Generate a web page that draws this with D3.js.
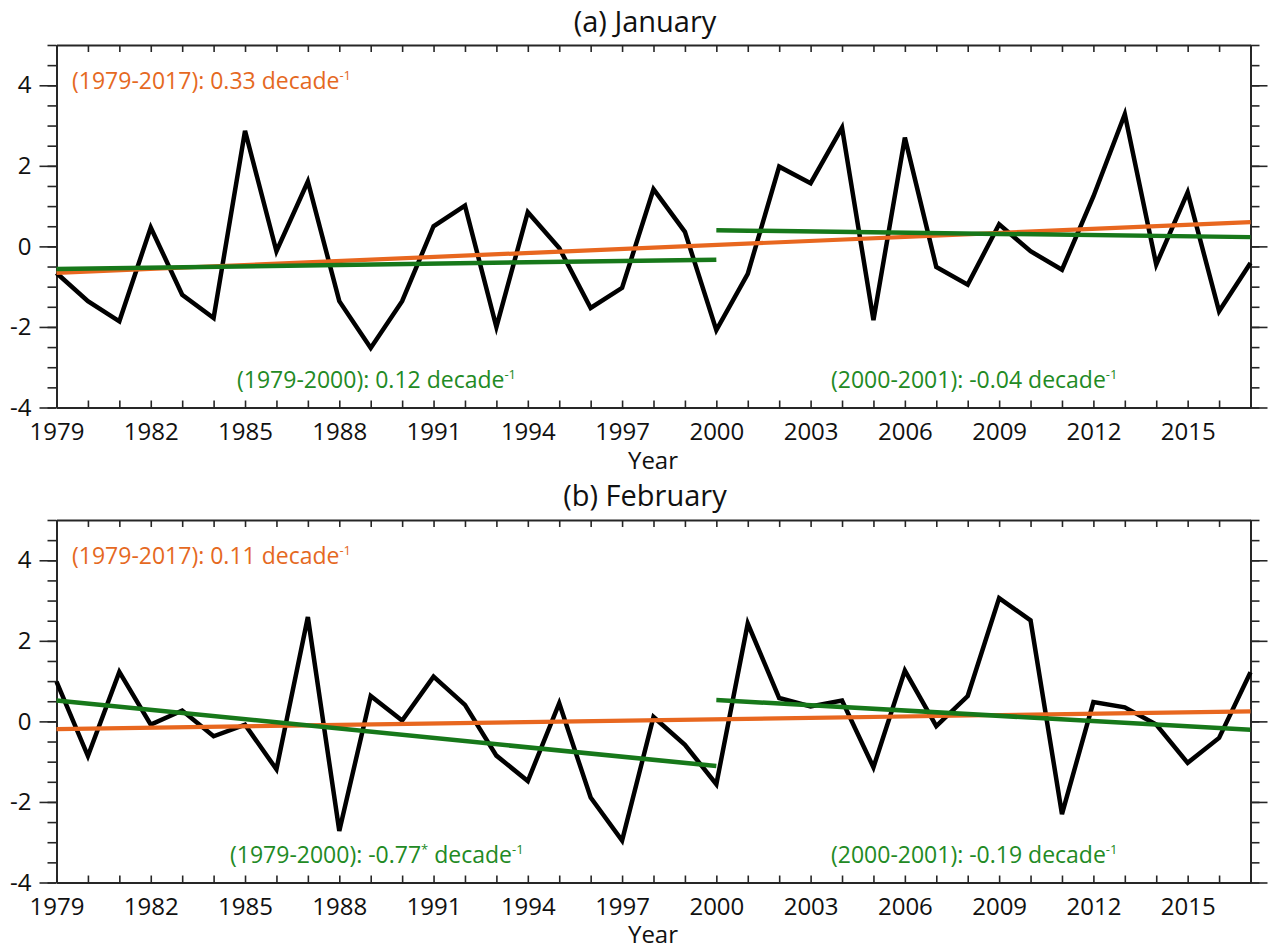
<!DOCTYPE html>
<html>
<head>
<meta charset="utf-8">
<script src="https://cdn.jsdelivr.net/npm/d3@7"></script>
<style>
  html, body { margin: 0; padding: 0; background: #fff; }
  svg { display: block; }
  text { font-family: "Open Sans", "Noto Sans", sans-serif; }
</style>
</head>
<body>
<svg id="chart" width="1268" height="949"></svg>
<script>
// ---------------- data ----------------
const years = d3.range(1979, 2018);
const janValues = [-0.66, -1.36, -1.86, 0.47, -1.20, -1.78, 2.87, -0.12, 1.61, -1.36,
  -2.52, -1.36, 0.50, 1.01, -2.00, 0.85, -0.04, -1.53, -1.03, 1.42,
  0.36, -2.08, -0.68, 1.98, 1.57, 2.95, -1.83, 2.70, -0.51, -0.95,
  0.55, -0.12, -0.58, 1.24, 3.28, -0.45, 1.34, -1.61, -0.41];
const febValues = [0.99, -0.86, 1.23, -0.08, 0.27, -0.37, -0.08, -1.19, 2.59, -2.72,
  0.63, 0.02, 1.11, 0.41, -0.85, -1.48, 0.45, -1.89, -2.96, 0.11,
  -0.58, -1.56, 2.43, 0.58, 0.37, 0.52, -1.14, 1.26, -0.12, 0.63,
  3.06, 2.51, -2.30, 0.48, 0.35, -0.08, -1.03, -0.41, 1.22];
// trend line endpoints [startYear, startValue, endYear, endValue]
const janTrendAll = [1979, -0.66, 2017, 0.60];
const janTrendEarly = [1979, -0.56, 2000, -0.33];
const janTrendLate = [2000, 0.40, 2017, 0.23];
const febTrendAll = [1979, -0.19, 2017, 0.25];
const febTrendEarly = [1979, 0.52, 2000, -1.11];
const febTrendLate = [2000, 0.53, 2017, -0.21];
const panelTitles = ["(a) January", "(b) February"];
const trendAllLabels = ["0.33", "0.11"];
const trendEarlyLabels = ["0.12", "-0.77"];
const trendEarlyStars = ["", "*"];
const trendLateLabels = ["-0.04", "-0.19"];
const yMajorTicks = [-4, -2, 0, 2, 4];
const yMinorTicks = d3.range(-4, 5.01, 0.5);
const xLabelYears = d3.range(1979, 2018, 3);

// ---------------- layout ----------------
const svg = d3.select("#chart");
const orange = "#e8671f";
const green = "#17781a";
const axisColor = "#262626";
const x = d3.scaleLinear().domain([1979, 2017]).range([56.5, 1250.5]);

const panels = [
  { title: panelTitles[0], values: janValues, all: janTrendAll, early: janTrendEarly, late: janTrendLate,
    top: 45, bottom: 407.5, titleY: 32, yearY: 469, idx: 0 },
  { title: panelTitles[1], values: febValues, all: febTrendAll, early: febTrendEarly, late: febTrendLate,
    top: 520, bottom: 882.5, titleY: 506, yearY: 943, idx: 1 }
];

function styleAxis(g) {
  g.selectAll("path.domain").attr("stroke", axisColor).attr("stroke-width", 1.8);
  g.selectAll(".tick line").attr("stroke", axisColor).attr("stroke-width", 1.6);
  g.selectAll(".tick text").attr("fill", "#111").style("font-family", '"Open Sans", sans-serif');
}

panels.forEach(p => {
  const y = d3.scaleLinear().domain([-4, 5]).range([p.bottom, p.top]);
  const g = svg.append("g");

  // title
  g.append("text").attr("x", 645).attr("y", p.titleY).attr("text-anchor", "middle")
    .attr("font-size", 29).attr("fill", "#111").text(p.title);

  // axes
  const leftMinor = g.append("g").attr("transform", `translate(${x.range()[0]},0)`)
    .call(d3.axisLeft(y).tickValues(yMinorTicks).tickSize(9).tickSizeOuter(0).tickFormat(""));
  styleAxis(leftMinor);
  const leftMajor = g.append("g").attr("transform", `translate(${x.range()[0]},0)`)
    .call(d3.axisLeft(y).tickValues(yMajorTicks).tickSize(17).tickSizeOuter(0).tickPadding(8).tickFormat(d => String(d)));
  styleAxis(leftMajor);
  leftMajor.selectAll(".tick text").attr("font-size", 24);

  const rightMinor = g.append("g").attr("transform", `translate(${x.range()[1]},0)`)
    .call(d3.axisRight(y).tickValues(yMinorTicks).tickSize(9).tickSizeOuter(0).tickFormat(""));
  styleAxis(rightMinor);
  const rightMajor = g.append("g").attr("transform", `translate(${x.range()[1]},0)`)
    .call(d3.axisRight(y).tickValues(yMajorTicks).tickSize(17).tickSizeOuter(0).tickFormat(""));
  styleAxis(rightMajor);

  const bottom = g.append("g").attr("transform", `translate(0,${p.bottom})`)
    .call(d3.axisBottom(x).tickValues(years).tickSize(-7).tickSizeOuter(0).tickPadding(15)
      .tickFormat(d => xLabelYears.includes(d) ? String(d) : ""));
  styleAxis(bottom);
  bottom.selectAll(".tick text").attr("font-size", 24);

  const top = g.append("g").attr("transform", `translate(0,${p.top})`)
    .call(d3.axisTop(x).tickValues(years).tickSize(-7).tickSizeOuter(0).tickFormat(""));
  styleAxis(top);

  // Year label
  g.append("text").attr("x", 653).attr("y", p.yearY).attr("text-anchor", "middle")
    .attr("font-size", 24).attr("fill", "#111").text("Year");

  // series line
  const line = d3.line().x((d, i) => x(years[i])).y(d => y(d));
  g.append("path").datum(p.values).attr("d", line).attr("fill", "none")
    .attr("stroke", "#000").attr("stroke-width", 4.5).attr("stroke-linejoin", "miter");

  const seg = t => `M${x(t[0])},${y(t[1])}L${x(t[2])},${y(t[3])}`;
  g.append("path").attr("d", seg(p.all)).attr("stroke", orange).attr("stroke-width", 4.2).attr("fill", "none");
  g.append("path").attr("d", seg(p.early)).attr("stroke", green).attr("stroke-width", 4.5).attr("fill", "none");
  g.append("path").attr("d", seg(p.late)).attr("stroke", green).attr("stroke-width", 4.5).attr("fill", "none");

  // annotations
  function annot(xp, yp, color, prefix, val, star) {
    const t = g.append("text").attr("x", xp).attr("y", yp).attr("font-size", 23).attr("fill", color);
    t.append("tspan").text(`${prefix}: ${val}`);
    if (star) t.append("tspan").attr("font-size", 13).attr("dy", -9).text(star);
    t.append("tspan").attr("dy", star ? 9 : 0).text(" decade");
    t.append("tspan").attr("font-size", 13).attr("dy", -9).text("-1");
  }
  annot(72, p.top + 44, "#e5691f", "(1979-2017)", trendAllLabels[p.idx], "");
  annot(p.idx === 0 ? 237 : 230, p.bottom - 20, "#228a24", "(1979-2000)", trendEarlyLabels[p.idx], trendEarlyStars[p.idx]);
  annot(831, p.bottom - 20, "#228a24", "(2000-2001)", trendLateLabels[p.idx], "");
});
</script>
</body>
</html>
